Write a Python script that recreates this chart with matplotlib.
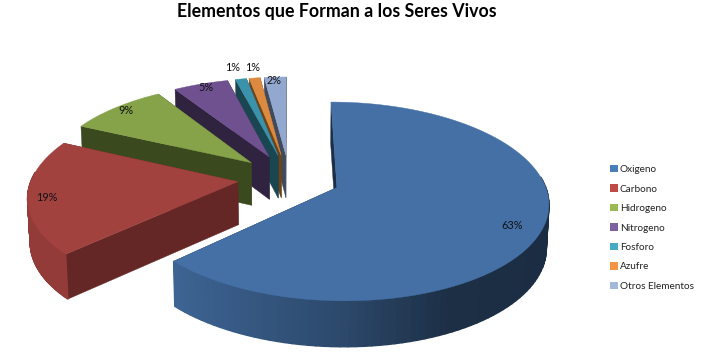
import numpy as np
import matplotlib
matplotlib.use("Agg")
import matplotlib.pyplot as plt
from matplotlib.patches import Polygon, Patch

title = "Elementos que Forman a los Seres Vivos"
names = ["Oxigeno", "Carbono", "Hidrogeno", "Nitrogeno", "Fosforo", "Azufre", "Otros Elementos"]
values = [63, 19, 9, 5, 1, 1, 2]

top_colors = ["#4470a5", "#a2423f", "#86a34a", "#6f5190", "#3b93ab", "#dc8a3f", "#92a8cf"]
wall_colors = ["#1b2f47", "#642725", "#3a4a1e", "#2f2340", "#1a4652", "#6f4318", "#3f4a5e"]
legend_colors = ["#4a7ebb", "#be4b48", "#98b954", "#7d60a0", "#46aac4", "#f49544", "#a5b9d9"]

# perspective settings for the tilted pie, in pixels
cx, cy = 289, 178
rx, ry = 206, 94.8
persp = 0.138
explode = 0.25
depth = 43

# label placement: fraction of the radius plus a nudge in pixels
label_frac = 0.85
label_nudge = [(2, 3), (-13, 3), (-9, -5), (-4, -6), (-13, -22), (-6, -21), (-3, -7)]


def project(u, v, z=0.0):
    s = 1 / (1 + persp * v)
    k = 1 - 0.01 * z
    return cx + rx * u * s * k, cy - ry * v * s + depth * z * s ** 0.4


def shade(color, f):
    return tuple(c * f for c in matplotlib.colors.to_rgb(color))


fig = plt.figure(figsize=(7.01, 3.55), dpi=100)
ax = fig.add_axes([0, 0, 1, 1])
ax.set_xlim(0, 701)
ax.set_ylim(355, 0)
ax.axis("off")

total = sum(values)
edges = np.cumsum([0] + values) / total * 2 * np.pi

# back slices first so the front ones cover them
for i in reversed(range(len(values))):
    a0, a1 = edges[i], edges[i + 1]
    mid = (a0 + a1) / 2
    ou, ov = explode * np.sin(mid), explode * np.cos(mid)
    ang = np.linspace(a0, a1, 120)
    us = ou + np.sin(ang)
    vs = ov + np.cos(ang)

    # radial walls
    for a in (a0, a1):
        eu, ev = ou + np.sin(a), ov + np.cos(a)
        pts = [project(ou, ov), project(eu, ev), project(eu, ev, 1), project(ou, ov, 1)]
        ax.add_patch(Polygon(pts, closed=True, fc=wall_colors[i], ec=wall_colors[i], lw=0.3))

    # outer wall, only the part that faces the viewer
    for j in range(len(ang) - 1):
        if np.cos((ang[j] + ang[j + 1]) / 2) > 0.1:
            continue
        f = np.interp(np.sin(ang[j]), [-0.73, 0, 0.45, 1], [0.9, 0.65, 0.42, 0.4])
        col = shade(top_colors[i], f)
        pts = [project(us[j], vs[j]), project(us[j + 1], vs[j + 1]),
               project(us[j + 1], vs[j + 1], 1), project(us[j], vs[j], 1)]
        ax.add_patch(Polygon(pts, closed=True, fc=col, ec=col, lw=1.0, joinstyle="round"))

    # top face
    pts = [project(ou, ov)] + [project(a, b) for a, b in zip(us, vs)]
    ax.add_patch(Polygon(pts, closed=True, fc=top_colors[i], ec=top_colors[i], lw=0.3))

# percent labels go on top of every slice
for i, val in enumerate(values):
    mid = (edges[i] + edges[i + 1]) / 2
    u = (explode + label_frac) * np.sin(mid)
    v = (explode + label_frac) * np.cos(mid)
    x, y = project(u, v)
    ax.text(x + label_nudge[i][0], y + label_nudge[i][1], f"{val}%", ha="center", va="center",
            fontsize=7.8, family="Lato", color="#111111")

ax.text(337, 11, title, ha="center", va="center", fontsize=12.8, fontweight="bold",
        family="Lato", color="black")

handles = [Patch(fc=c, ec="none") for c in legend_colors]
ax.legend(handles, names, loc="upper left", bbox_to_anchor=(606 / 701, 1 - 161 / 355),
          frameon=False, prop={"family": "Lato", "size": 7.2}, handlelength=0.75, handleheight=0.75,
          handletextpad=0.25, labelspacing=1.03, borderpad=0.4, borderaxespad=0, labelcolor="#222222")

plt.savefig("out.png", dpi=100)
